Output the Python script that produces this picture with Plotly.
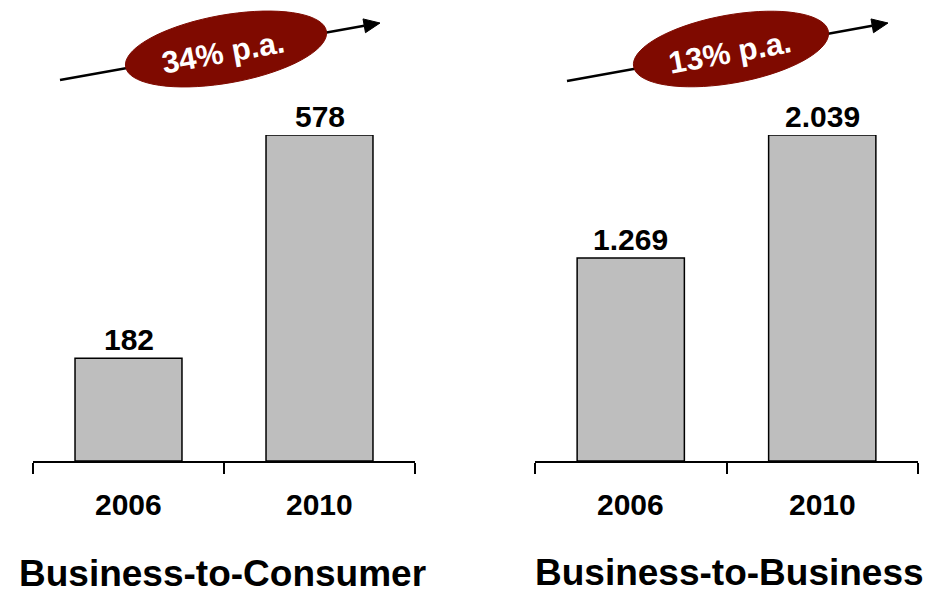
import math
import plotly.graph_objects as go

# ---- data ----
years = ["2006", "2010"]
b2c_values = [182, 578]
b2b_values = [1269, 2039]
panel_titles = ["Business-to-Consumer", "Business-to-Business"]
growth_labels = ["34% p.a.", "13% p.a."]

W, H = 932, 594
FONT = "Liberation Sans, Arial, sans-serif"
BAR_COLOR = "#BEBEBE"
OVAL_COLOR = "#7F0A00"


def de_fmt(v):
    return f"{v:,}".replace(",", ".")


def px(x):
    return x / W


def py(y):
    return 1 - y / H


positions = list(range(len(years)))
boundaries = [p - 0.5 for p in positions] + [positions[-1] + 0.5]

fig = go.Figure()

for xa, ya, vals in (("x", "y", b2c_values), ("x2", "y2", b2b_values)):
    fig.add_trace(go.Bar(x=positions, y=vals, xaxis=xa, yaxis=ya, width=0.56,
                         marker=dict(color=BAR_COLOR, line=dict(color="black", width=1.5)),
                         cliponaxis=False, hoverinfo="skip"))

ydom = [py(461), py(135)]
xcommon = dict(type="linear", range=[boundaries[0], boundaries[-1]],
               showline=True, linecolor="black", linewidth=1.5,
               ticks="outside", tickmode="array", tickvals=boundaries,
               ticklen=11, tickwidth=1.5, tickcolor="black",
               showgrid=False, zeroline=False,
               showticklabels=False, automargin=False, fixedrange=True)
ycommon = dict(visible=False, showgrid=False, zeroline=False, automargin=False, fixedrange=True)

fig.update_layout(
    width=W, height=H,
    margin=dict(l=0, r=0, t=0, b=0, autoexpand=False),
    paper_bgcolor="white", plot_bgcolor="white",
    showlegend=False,
    xaxis=dict(domain=[px(33), px(415)], anchor="y", **xcommon),
    xaxis2=dict(domain=[px(535), px(918)], anchor="y2", **xcommon),
    yaxis=dict(domain=ydom, range=[0, max(b2c_values)], anchor="x", **ycommon),
    yaxis2=dict(domain=ydom, range=[0, max(b2b_values)], anchor="x2", **ycommon),
)

annotations = []
bold30 = dict(family=FONT, size=30, color="black", weight="bold")
for xa, ya, vals in (("x", "y", b2c_values), ("x2", "y2", b2b_values)):
    for pos, yr, v in zip(positions, years, vals):
        annotations.append(dict(x=pos, y=v, xref=xa, yref=ya, text=de_fmt(v),
                                showarrow=False, xanchor="center", yanchor="bottom", yshift=0,
                                font=bold30))
        # category labels under the axis
        annotations.append(dict(x=pos, y=py(504), xref=xa, yref="paper", text=yr,
                                showarrow=False, xanchor="center", yanchor="middle",
                                font=bold30))

# panel titles
annotations.append(dict(x=px(222), y=py(573), xref="paper", yref="paper",
                        text=panel_titles[0], showarrow=False, borderpad=0,
                        xanchor="center", yanchor="middle",
                        font=dict(family=FONT, size=37, color="black", weight="bold")))
annotations.append(dict(x=px(729), y=py(572), xref="paper", yref="paper",
                        text=panel_titles[1], showarrow=False, borderpad=0,
                        xanchor="center", yanchor="middle",
                        font=dict(family=FONT, size=37, color="black", weight="bold")))

shapes = []


def growth_badge(start, tip, center, a, b, label, text_center):
    dx, dy = tip[0] - start[0], tip[1] - start[1]
    L = math.hypot(dx, dy)
    ux, uy = dx / L, dy / L
    nx, ny = -uy, ux
    hl, hw = 16, 7
    bx, by = tip[0] - hl * ux, tip[1] - hl * uy
    shapes.append(dict(type="line", xref="paper", yref="paper",
                       x0=px(start[0]), y0=py(start[1]), x1=px(bx), y1=py(by),
                       line=dict(color="black", width=2.5)))
    tri = (f"M {px(tip[0])},{py(tip[1])} "
           f"L {px(bx + hw * nx)},{py(by + hw * ny)} "
           f"L {px(bx - hw * nx)},{py(by - hw * ny)} Z")
    shapes.append(dict(type="path", xref="paper", yref="paper", path=tri,
                       fillcolor="black", line=dict(color="black", width=1)))
    ang = math.atan2(dy, dx)
    pts = []
    for i in range(73):
        t = 2 * math.pi * i / 72
        ex, ey = a * math.cos(t), b * math.sin(t)
        X = center[0] + ex * math.cos(ang) - ey * math.sin(ang)
        Y = center[1] + ex * math.sin(ang) + ey * math.cos(ang)
        pts.append(f"{px(X)},{py(Y)}")
    path = "M " + " L ".join(pts) + " Z"
    shapes.append(dict(type="path", xref="paper", yref="paper", path=path,
                       fillcolor=OVAL_COLOR, line=dict(color=OVAL_COLOR, width=1)))
    annotations.append(dict(x=px(text_center[0]), y=py(text_center[1]), xref="paper", yref="paper",
                            text=label, showarrow=False, textangle=math.degrees(ang),
                            xanchor="center", yanchor="middle",
                            font=dict(family=FONT, size=31, color="white", weight="bold")))


growth_badge((60, 80), (380, 23), (226, 49), 102, 34, growth_labels[0], (223, 52))
growth_badge((567, 81), (888, 23), (731, 49), 99, 34, growth_labels[1], (730, 53))

fig.update_layout(shapes=shapes, annotations=annotations)

fig.write_html("out.html", config={"displayModeBar": False},
               post_script="document.body.style.margin='0';document.body.style.overflow='hidden';")
